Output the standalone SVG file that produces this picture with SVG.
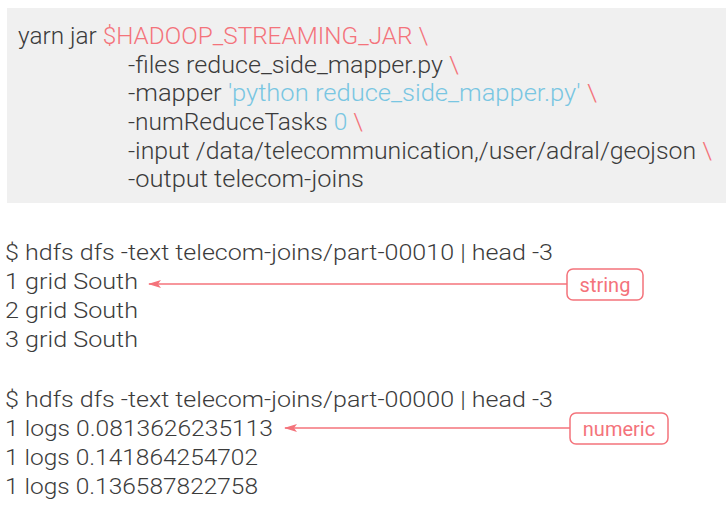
<svg xmlns="http://www.w3.org/2000/svg" width="726" height="520" viewBox="0 0 726 520">
<defs>
<style>
.t{font-family:Roboto,"Open Sans","Liberation Sans",sans-serif;font-weight:300;fill:#3b3b3b}
.up{font-size:23px}
.lo{font-size:21.5px}
.r{fill:#f4737b}
.b{fill:#79c6e2}
.lbl{font-family:Roboto,"Open Sans","Liberation Sans",sans-serif;font-weight:400;font-size:20px;fill:#f4737b}
.box{fill:#ffffff;stroke:#f4737b;stroke-width:1.5}
.con{stroke:#f4737b;stroke-width:1.6;fill:none}
</style>
<marker id="ah" viewBox="0 0 13 8" refX="12" refY="4" markerWidth="13" markerHeight="8" markerUnits="userSpaceOnUse" orient="auto">
<path d="M0,0 L13,4 L0,8 L3,4 Z" fill="#f4737b"/>
</marker>
</defs>
<rect width="726" height="520" fill="#ffffff"/>
<g id="command">
<rect x="7" y="8" width="719" height="195" fill="#f0f0f0"/>
<text class="t up" x="18" y="44" textLength="410" lengthAdjust="spacingAndGlyphs">yarn jar <tspan class="r">$HADOOP_STREAMING_JAR \</tspan></text>
<text class="t up" x="128" y="73" textLength="331" lengthAdjust="spacingAndGlyphs">-files reduce_side_mapper.py <tspan class="r">\</tspan></text>
<text class="t up" x="128" y="101" textLength="469" lengthAdjust="spacingAndGlyphs">-mapper <tspan class="b">'python reduce_side_mapper.py'</tspan> <tspan class="r">\</tspan></text>
<text class="t up" x="128" y="130" textLength="235" lengthAdjust="spacingAndGlyphs">-numReduceTasks <tspan class="b">0</tspan> <tspan class="r">\</tspan></text>
<text class="t up" x="128" y="159" textLength="584" lengthAdjust="spacingAndGlyphs">-input /data/telecommunication,/user/adral/geojson <tspan class="r">\</tspan></text>
<text class="t up" x="128" y="187" textLength="236" lengthAdjust="spacingAndGlyphs">-output telecom-joins</text>
</g>
<g id="output1">
<text class="t lo" x="5" y="260" textLength="548" lengthAdjust="spacingAndGlyphs">$ hdfs dfs -text telecom-joins/part-00010 | head -3</text>
<text class="t lo" x="5" y="289" textLength="133" lengthAdjust="spacingAndGlyphs">1 grid South</text>
<text class="t lo" x="5" y="318" textLength="133" lengthAdjust="spacingAndGlyphs">2 grid South</text>
<text class="t lo" x="5" y="347" textLength="133" lengthAdjust="spacingAndGlyphs">3 grid South</text>
</g>
<g id="output2">
<text class="t lo" x="5" y="407" textLength="548" lengthAdjust="spacingAndGlyphs">$ hdfs dfs -text telecom-joins/part-00000 | head -3</text>
<text class="t lo" x="5" y="436" textLength="268" lengthAdjust="spacingAndGlyphs">1 logs 0.0813626235113</text>
<text class="t lo" x="5" y="465" textLength="253" lengthAdjust="spacingAndGlyphs">1 logs 0.141864254702</text>
<text class="t lo" x="5" y="494" textLength="253" lengthAdjust="spacingAndGlyphs">1 logs 0.136587822758</text>
</g>
<g id="connectors">
<line class="con" x1="567" y1="284" x2="149" y2="284" marker-end="url(#ah)"/>
<line class="con" x1="570" y1="428" x2="285" y2="428" marker-end="url(#ah)"/>
</g>
<g id="label-string">
<rect class="box" x="567" y="269" width="76" height="31" rx="6"/>
<text class="lbl" x="605" y="292" text-anchor="middle">string</text>
</g>
<g id="label-numeric">
<rect class="box" x="570" y="413" width="98" height="31" rx="6"/>
<text class="lbl" x="619" y="436" text-anchor="middle">numeric</text>
</g>
</svg>
